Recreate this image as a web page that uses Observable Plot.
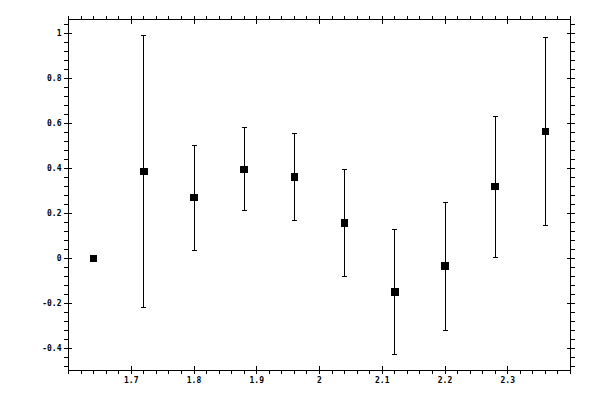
<!DOCTYPE html>
<html>
<head>
<meta charset="utf-8">
<script src="https://cdn.jsdelivr.net/npm/d3@7"></script>
<script src="https://cdn.jsdelivr.net/npm/@observablehq/plot@0.6"></script>
<style>
  html, body { margin: 0; padding: 0; background: #fff; }
  #chart svg { display: block; }
  #chart svg path, #chart svg line, #chart svg rect { shape-rendering: crispEdges; }
</style>
</head>
<body>
<div id="chart"></div>
<script>
const xs    = [1.64, 1.72, 1.80, 1.88, 1.96, 2.04, 2.12, 2.20, 2.28, 2.36];
const ys    = [0, 0.386, 0.270, 0.395, 0.363, 0.158, -0.150, -0.034, 0.319, 0.564];
const upper = [null, 0.994, 0.502, 0.583, 0.555, 0.395, 0.128, 0.247, 0.633, 0.984];
const lower = [null, -0.221, 0.033, 0.212, 0.167, -0.079, -0.427, -0.320, 0.002, 0.145];

const xMajor = [1.7, 1.8, 1.9, 2.0, 2.1, 2.2, 2.3];
const xMinor = d3.range(0, 41).map(i => +(1.6 + i * 0.02).toFixed(2));
const yMajor = [-0.4, -0.2, 0, 0.2, 0.4, 0.6, 0.8, 1];
const yMinor = d3.range(0, 39).map(i => +(-0.48 + i * 0.04).toFixed(2));

const data = xs.map((x, i) => ({x, y: ys[i], hi: upper[i], lo: lower[i]}));
const bars = data.filter(d => d.hi != null);

const fmt = d => String(+(+d).toFixed(2));
const cap = {draw(ctx) { ctx.moveTo(-2.5, 0); ctx.lineTo(2.5, 0); }};

const axisStyle = {fontFamily: "DejaVu Sans Mono", fontSize: 8, fontWeight: "bold"};
const noLab = {label: null};

const chart = Plot.plot({
  width: 600,
  height: 400,
  marginLeft: 68,
  marginRight: 30,
  marginTop: 19,
  marginBottom: 30,
  style: {background: "#fff", color: "#000", ...axisStyle},
  x: {domain: [1.6, 2.4], label: null},
  y: {domain: [-0.5, 1.064], label: null},
  marks: [
    Plot.frame({stroke: "#000"}),
    // bottom
    Plot.axisX(xMinor, {anchor: "bottom", tickSize: 4, text: null, ...noLab}),
    Plot.axisX(xMajor, {anchor: "bottom", tickSize: 4, tickPadding: 3, tickFormat: fmt, fill: "#000", ...noLab, ...axisStyle}),
    Plot.axisX(xMajor, {anchor: "bottom", tickSize: -4, text: null, ...noLab}),
    // top
    Plot.axisX(xMinor, {anchor: "top", tickSize: 4, text: null, ...noLab}),
    Plot.axisX(xMajor, {anchor: "top", tickSize: 4, text: null, ...noLab}),
    Plot.axisX(xMajor, {anchor: "top", tickSize: -4, text: null, ...noLab}),
    // left
    Plot.axisY(yMinor, {anchor: "left", tickSize: 4, text: null, ...noLab}),
    Plot.axisY(yMajor, {anchor: "left", tickSize: 4, tickPadding: 3, tickFormat: fmt, fill: "#000", ...noLab, ...axisStyle}),
    Plot.axisY(yMajor, {anchor: "left", tickSize: -4, text: null, ...noLab}),
    // right
    Plot.axisY(yMinor, {anchor: "right", tickSize: 4, text: null, ...noLab}),
    Plot.axisY(yMajor, {anchor: "right", tickSize: 4, text: null, ...noLab}),
    Plot.axisY(yMajor, {anchor: "right", tickSize: -4, text: null, ...noLab}),
    // error bars
    Plot.ruleX(bars, {x: "x", y1: "lo", y2: "hi", stroke: "#000", strokeWidth: 1}),
    Plot.dot(bars, {x: "x", y: "hi", symbol: cap, stroke: "#000", fill: "none", strokeWidth: 1}),
    Plot.dot(bars, {x: "x", y: "lo", symbol: cap, stroke: "#000", fill: "none", strokeWidth: 1}),
    // points
    Plot.dot(data, {x: "x", y: "y", symbol: "square", r: 4.2, fill: "#000", stroke: null})
  ]
});
document.getElementById("chart").appendChild(chart);
</script>
</body>
</html>
